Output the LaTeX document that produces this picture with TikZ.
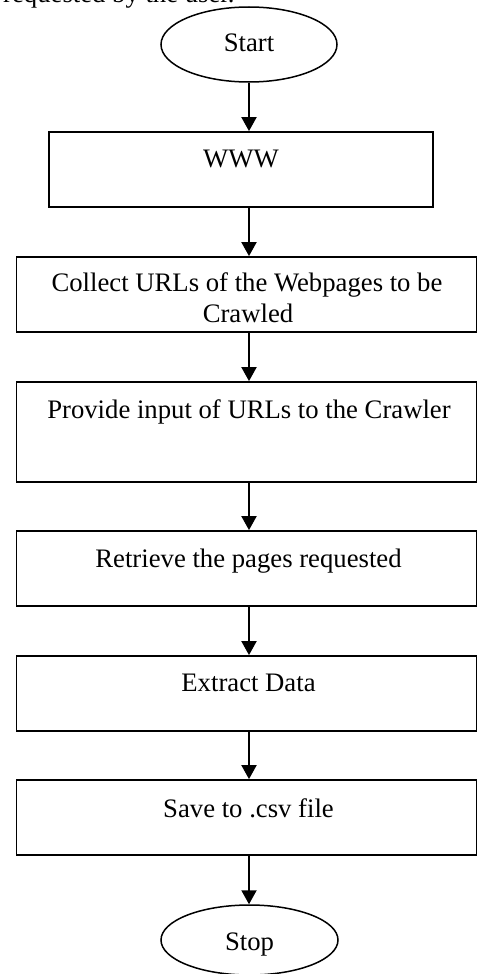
\documentclass[tikz,border=0pt]{standalone}
\usepackage{fontspec}
\setmainfont{Liberation Serif}
\usetikzlibrary{shapes.geometric,arrows.meta}
\begin{document}
\begin{tikzpicture}[x=1pt,y=-1pt,
  box/.style={draw,line width=1.8pt,rectangle,inner sep=0pt},
  oval/.style={draw,line width=1.5pt,ellipse,inner sep=0pt,minimum width=176pt,minimum height=75pt},
  txt/.style={anchor=base,inner sep=0pt,font=\fontsize{26.7}{30.5}\selectfont},
  flow/.style={line width=2pt,-{Triangle[length=14pt,width=15pt]}}]
\useasboundingbox (0,0) rectangle (477,974);
% cut-off text at top
\node[txt,anchor=base west] (top) at (3,2.5) {requested by the user.};
% shapes
\node[oval] (start) at (249,44.5) {};
\node[box,minimum width=384pt,minimum height=75pt] (www) at (241,169.5) {};
\node[box,minimum width=460pt,minimum height=75pt] (collect) at (246.5,294.5) {};
\node[box,minimum width=460pt,minimum height=100pt] (provide) at (246.5,432) {};
\node[box,minimum width=460pt,minimum height=75pt] (retrieve) at (246.5,568.5) {};
\node[box,minimum width=460pt,minimum height=75pt] (extract) at (246.5,693.5) {};
\node[box,minimum width=460pt,minimum height=75pt] (save) at (246.5,817.5) {};
\node[oval,minimum width=177pt,minimum height=70pt] (stop) at (249.5,940) {};
% texts
\node[txt] (tstart) at (249,51.5) {Start};
\node[txt] (twww) at (241,167) {WWW};
\node[txt] (tcollectA) at (247,291.7) {Collect URLs of the Webpages to be};
\node[txt] (tcollectB) at (248,322) {Crawled};
\node[txt] (tprovide) at (249,418) {Provide input of URLs to the Crawler};
\node[txt] (tretrieve) at (248.5,567) {Retrieve the pages requested};
\node[txt] (textract) at (248.5,691.7) {Extract Data};
\node[txt] (tsave) at (248.5,817.3) {Save to .csv file};
\node[txt] (tstop) at (249.5,950.7) {Stop};
% connectors
\draw[flow] (start.south) -- (start.south |- www.north);
\draw[flow] (start.south |- www.south) -- (start.south |- collect.north);
\draw[flow] (start.south |- collect.south) -- (start.south |- provide.north);
\draw[flow] (start.south |- provide.south) -- (start.south |- retrieve.north);
\draw[flow] (start.south |- retrieve.south) -- (start.south |- extract.north);
\draw[flow] (start.south |- extract.south) -- (start.south |- save.north);
\draw[flow] (start.south |- save.south) -- (start.south |- stop.north);
\end{tikzpicture}
\end{document}
